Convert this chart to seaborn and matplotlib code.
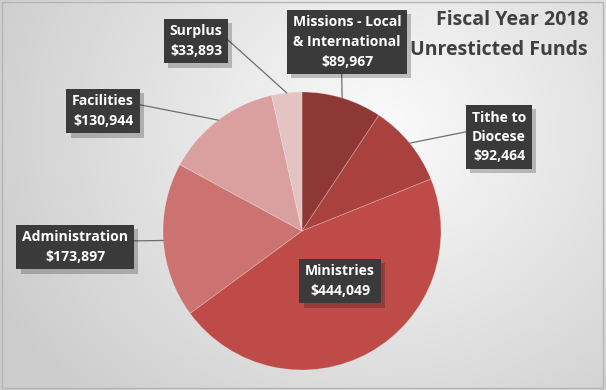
import numpy as np
import matplotlib
matplotlib.use("Agg")
import matplotlib.pyplot as plt
import matplotlib.patheffects as pe
import seaborn as sns
from matplotlib.patches import Rectangle

categories = ["Missions - Local\n& International", "Tithe to\nDiocese", "Ministries",
              "Administration", "Facilities", "Surplus"]
values = [89967, 92464, 444049, 173897, 130944, 33893]
colors = ["#8E3836", "#A9423F", "#BE4B48", "#CC7270", "#D9A09F", "#E4C3C3"]
title_lines = ["Fiscal Year 2018", "Unresticted Funds"]

# label box centres (pixel coords, y from top) and attach point on box
label_pos = [(347, 42), (499, 137), (340, 281), (75, 247), (103, 111), (196, 41)]
label_rel = [(0.45, 0.0), (0.0, 0.62), None, (1.0, 0.68), (1.0, 0.72), (1.0, 0.68)]

sns.set_theme(style="white")
plt.rcParams['font.family'] = ['Open Sans', 'DejaVu Sans']

W, H = 606, 390
fig = plt.figure(figsize=(W / 100, H / 100), dpi=100)

# background radial gradient
bg = fig.add_axes([0, 0, 1, 1])
yy, xx = np.mgrid[0:H, 0:W]
d = np.sqrt(((xx - 380) / 1.0) ** 2 + ((yy - 130) / 0.9) ** 2)
t = np.clip(d / 430, 0, 1)
c0 = np.array([0.985, 0.985, 0.985])
c1 = np.array([0.80, 0.80, 0.80])
img = c0[None, None, :] * (1 - t[..., None]) + c1[None, None, :] * t[..., None]
bg.imshow(img, extent=[0, W, H, 0], aspect='auto')
bg.set_xlim(0, W)
bg.set_ylim(H, 0)
bg.axis('off')
bg.add_patch(Rectangle((1.5, 1.5), 601, 386, fill=False, ec="#B5B5B5", lw=1))

ax = fig.add_axes([0, 0, 1, 1])
ax.set_xlim(0, W)
ax.set_ylim(0, H)
ax.set_aspect('equal')
ax.axis('off')
ax.patch.set_alpha(0)

cx, cy, r = 302, H - 231, 139
wedges, _ = ax.pie(values, colors=colors, startangle=90, counterclock=False,
                   center=(cx, cy), radius=r, frame=True,
                   wedgeprops=dict(linewidth=0.6, edgecolor=(1, 1, 1, 0.25)))
ax.set_xlim(0, W)
ax.set_ylim(0, H)
ax.axis('off')

shadow = [pe.SimplePatchShadow(offset=(3, -3), shadow_rgbFace=(0, 0, 0), alpha=0.22), pe.Normal()]
for w, cat, v, (lx, ly), rel in zip(wedges, categories, values, label_pos, label_rel):
    txt = f"{cat}\n${v:,.0f}"
    mid = np.deg2rad((w.theta1 + w.theta2) / 2)
    px, py = cx + r * np.cos(mid), cy + r * np.sin(mid)
    kw = dict(ha='center', va='center', fontsize=10.1, fontweight='bold',
              color='white', linespacing=1.5,
              bbox=dict(boxstyle='square,pad=0.4', fc='#3A3A3A', ec='none'),
              zorder=5)
    if rel is None:
        t_ = ax.text(lx, H - ly, txt, **kw)
    else:
        t_ = ax.annotate(txt, xy=(px, py), xytext=(lx, H - ly),
                         arrowprops=dict(arrowstyle='-', color='#6E6E6E', lw=0.9,
                                         shrinkA=0, shrinkB=0, relpos=rel), **kw)
    t_.get_bbox_patch().set_path_effects(shadow)

ax.text(588, H - 20, title_lines[0], ha='right', va='center', fontsize=14,
        fontweight='bold', color='#404040')
ax.text(588, H - 50, title_lines[1], ha='right', va='center', fontsize=14,
        fontweight='bold', color='#404040')

fig.savefig("out.png", dpi=100)
